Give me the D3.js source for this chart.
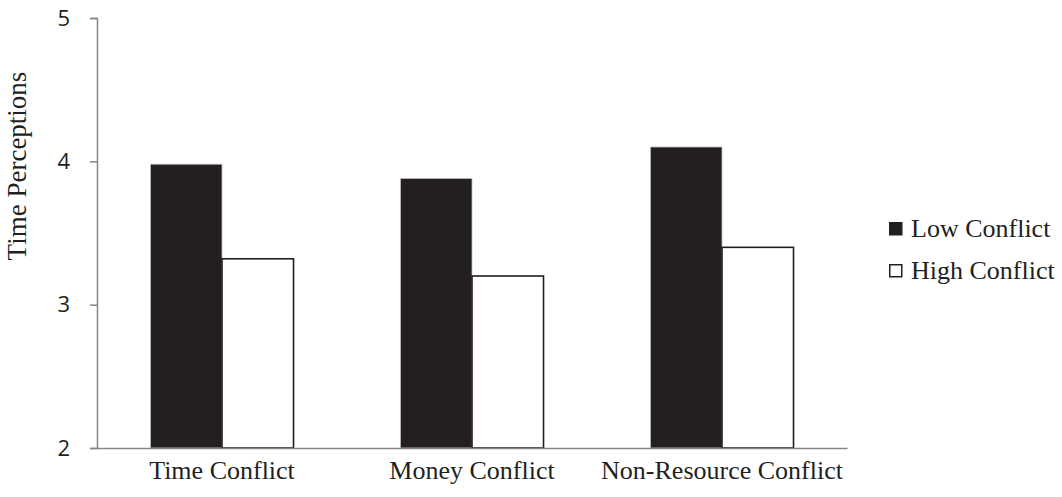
<!DOCTYPE html>
<html>
<head>
<meta charset="utf-8">
<script src="https://cdn.jsdelivr.net/npm/d3@7"></script>
<style>
  body { margin: 0; background: #fff; }
  .serif { font-family: "Liberation Serif", "Times New Roman", serif; fill: #231f20; }
</style>
</head>
<body>
<div id="chart"></div>
<script>
// Data
const categories = ["Time Conflict", "Money Conflict", "Non-Resource Conflict"];
const series = ["Low Conflict", "High Conflict"];
const lowValues = [3.98, 3.88, 4.10];
const highValues = [3.32, 3.20, 3.40];
const yTicks = [2, 3, 4, 5];

const W = 1062, H = 497;
const margin = {top: 18, right: 215, bottom: 49, left: 97};
const width = W - margin.left - margin.right;
const height = H - margin.top - margin.bottom;

const svg = d3.select("#chart")
  .append("svg")
  .attr("width", W)
  .attr("height", H);

const g = svg.append("g")
  .attr("transform", `translate(${margin.left},${margin.top})`);

// Scales
const x0 = d3.scaleBand()
  .domain(categories)
  .range([0, width])
  .padding(0);

const x1 = d3.scaleBand()
  .domain(series)
  .range([0, x0.bandwidth()])
  .paddingInner(0)
  .paddingOuter(0.748);

const y = d3.scaleLinear()
  .domain([2, 5])
  .range([height, 0]);

const fills = {"Low Conflict": "#231f20", "High Conflict": "#ffffff"};

const rows = categories.map((c, i) => ({
  cat: c,
  vals: [{s: series[0], v: lowValues[i]}, {s: series[1], v: highValues[i]}]
}));

// Bars
const grp = g.selectAll(".grp")
  .data(rows)
  .enter().append("g")
  .attr("transform", d => `translate(${x0(d.cat)},0)`);

grp.selectAll("rect")
  .data(d => d.vals)
  .enter().append("rect")
  .attr("x", d => x1(d.s))
  .attr("y", d => y(d.v))
  .attr("width", x1.bandwidth())
  .attr("height", d => height - y(d.v))
  .attr("fill", d => fills[d.s])
  .attr("stroke", d => d.s === "Low Conflict" ? "#bdbdbd" : "#231f20")
  .attr("stroke-width", d => d.s === "Low Conflict" ? 0.8 : 1.6);

// Y axis
const yAxis = g.append("g")
  .call(d3.axisLeft(y).tickValues(yTicks).tickSize(7).tickPadding(20).tickFormat(d3.format("d")));
yAxis.select(".domain").attr("stroke", "#868686").attr("stroke-width", 1.5);
yAxis.selectAll(".tick line").attr("stroke", "#868686").attr("stroke-width", 1.5);
yAxis.selectAll(".tick text")
  .style("font-family", "'Open Sans', sans-serif")
  .style("font-size", "22px")
  .attr("fill", "#231f20");

// X axis
const xAxis = g.append("g")
  .attr("transform", `translate(0,${height})`)
  .call(d3.axisBottom(x0).tickSize(0).tickSizeOuter(0).tickPadding(13));
xAxis.select(".domain").attr("stroke", "#868686").attr("stroke-width", 1.5);
xAxis.selectAll(".tick text")
  .attr("class", "serif")
  .style("font-size", "26px");

// Y title
svg.append("text")
  .attr("class", "serif")
  .attr("transform", `translate(26,166) rotate(-90)`)
  .attr("text-anchor", "middle")
  .style("font-size", "27px")
  .text("Time Perceptions");

// Legend
const legend = svg.append("g")
  .attr("transform", "translate(889,222)");

const li = legend.selectAll(".li")
  .data(series)
  .enter().append("g")
  .attr("transform", (d, i) => `translate(0,${i * 42})`);

li.append("rect")
  .attr("x", 0.75)
  .attr("y", 0.75)
  .attr("width", 12)
  .attr("height", 12)
  .attr("fill", d => fills[d])
  .attr("stroke", "#231f20")
  .attr("stroke-width", 1.5);

li.append("text")
  .attr("class", "serif")
  .attr("x", 22)
  .attr("y", 15)
  .style("font-size", "26px")
  .text(d => d);
</script>
</body>
</html>
